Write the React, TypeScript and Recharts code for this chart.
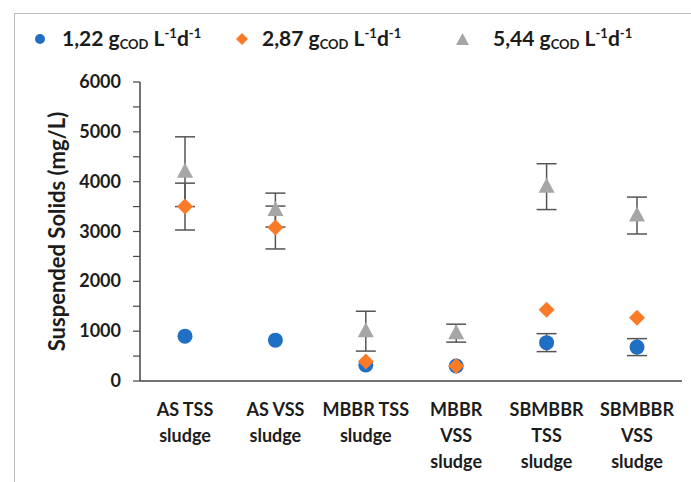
import React from "react";
import { ComposedChart, Line, ErrorBar, XAxis, YAxis } from "recharts";

const categories = [
  "AS TSS\nsludge",
  "AS VSS\nsludge",
  "MBBR TSS\nsludge",
  "MBBR\nVSS\nsludge",
  "SBMBBR\nTSS\nsludge",
  "SBMBBR\nVSS\nsludge",
];
const low = [900, 820, 320, 300, 770, 680];
const lowErr = [0, 0, 0, 0, 180, 170];
const mid = [3500, 3080, 390, 300, 1430, 1270];
const midErr = [470, 430, 0, 0, 0, 0];
const high = [4200, 3430, 1000, 960, 3900, 3320];
const highErr = [700, 340, 400, 180, 460, 370];
const yTicks = [0, 500, 1000, 1500, 2000, 2500, 3000, 3500, 4000, 4500, 5000, 5500, 6000];
const legendRates = ["1,22", "2,87", "5,44"];

const BLUE = "#1F6FC5";
const ORANGE = "#F97B28";
const GREY = "#A6A6A6";
const AXIS = "#454545";
const TEXT = "#1c1c1c";
const FONT = "Lato, 'Open Sans', sans-serif";

const data = categories.map((name, i) => ({
  name,
  low: low[i],
  lowErr: lowErr[i],
  mid: mid[i],
  midErr: midErr[i],
  high: high[i],
  highErr: highErr[i],
}));

const Circle = (p: any) =>
  p.cx == null ? null : <circle key={p.index} cx={p.cx} cy={p.cy} r={7.5} fill={BLUE} />;
const Diamond = (p: any) =>
  p.cx == null ? null : (
    <polygon
      key={p.index}
      points={`${p.cx},${p.cy - 8} ${p.cx + 8},${p.cy} ${p.cx},${p.cy + 8} ${p.cx - 8},${p.cy}`}
      fill={ORANGE}
    />
  );
const Triangle = (p: any) =>
  p.cx == null ? null : (
    <polygon
      key={p.index}
      points={`${p.cx},${p.cy - 9} ${p.cx + 8},${p.cy + 6} ${p.cx - 8},${p.cy + 6}`}
      fill={GREY}
    />
  );

function XTick({ x, y, payload }: any) {
  const lines = String(payload.value).split("\n");
  return (
    <text x={x} y={y} textAnchor="middle" fill={TEXT} fontFamily={FONT} fontWeight={700} fontSize={18}>
      {lines.map((l, i) => (
        <tspan key={i} x={x} dy={i === 0 ? 33 : 26}>
          {l}
        </tspan>
      ))}
    </text>
  );
}

function YTick({ x, y, payload }: any) {
  if (payload.value % 1000 !== 0) return null;
  return (
    <text x={x} y={y} dy={6} textAnchor="end" fill={TEXT} fontFamily={FONT} fontWeight={700} fontSize={18}>
      {payload.value}
    </text>
  );
}

function Unit({ v }: { v: string }) {
  const s = { fontSize: 13 };
  return (
    <span>
      {v} g<sub style={{ ...s, verticalAlign: -3 }}>COD</sub>
      {" "}L<sup style={{ ...s, verticalAlign: 8 }}>-1</sup>d<sup style={{ ...s, verticalAlign: 8 }}>-1</sup>
    </span>
  );
}

function LegendBox() {
  const item = { position: "absolute" as const, top: 25, display: "flex", alignItems: "center", whiteSpace: "nowrap" as const };
  return (
    <div style={{ position: "absolute", left: 0, top: 0, width: 691, fontFamily: FONT, fontWeight: 700, fontSize: 21, color: TEXT }}>
      <div style={{ ...item, left: 34 }}>
        <svg width={12} height={12} style={{ marginRight: 16 }}>
          <circle cx={6} cy={6} r={5} fill={BLUE} />
        </svg>
        <Unit v={legendRates[0]} />
      </div>
      <div style={{ ...item, left: 236 }}>
        <svg width={12} height={12} style={{ marginRight: 14 }}>
          <polygon points="6,0 12,6 6,12 0,6" fill={ORANGE} />
        </svg>
        <Unit v={legendRates[1]} />
      </div>
      <div style={{ ...item, left: 456 }}>
        <svg width={13} height={12} style={{ marginRight: 24 }}>
          <polygon points="6.5,0 13,12 0,12" fill={GREY} />
        </svg>
        <Unit v={legendRates[2]} />
      </div>
    </div>
  );
}

export default function App() {
  return (
    <div style={{ position: "fixed", left: 0, top: 0, width: 691, height: 482, overflow: "hidden", background: "#fff" }}>
      <div
        style={{
          position: "absolute",
          left: 14,
          top: 13,
          width: 720,
          height: 520,
          border: "1.5px solid #bdbdbd",
        }}
      />
      <div style={{ position: "absolute", left: 0, top: 0 }}>
        <ComposedChart width={691} height={482} data={data} margin={{ top: 82, right: 9, bottom: 71, left: 0 }}>
          <XAxis
            dataKey="name"
            type="category"
            tick={<XTick />}
            tickLine={false}
            tickSize={0}
            padding={{ left: 45, right: 45 }}
            axisLine={{ stroke: AXIS, strokeWidth: 1.5 }}
            interval={0}
          />
          <YAxis
            domain={[0, 6000]}
            ticks={yTicks}
            width={140}
            tickSize={7}
            tickMargin={12}
            tick={<YTick />}
            tickLine={{ stroke: AXIS, strokeWidth: 1.2 }}
            axisLine={{ stroke: AXIS, strokeWidth: 1.5 }}
            interval={0}
            label={{
              value: "Suspended Solids (mg/L)",
              angle: -90,
              position: "insideLeft",
              dx: 52,
              style: { textAnchor: "middle", fontFamily: FONT, fontWeight: 700, fontSize: 22, fill: TEXT },
            }}
          />
          <Line dataKey="high" stroke="none" dot={<Triangle />} activeDot={false} isAnimationActive={false}>
            <ErrorBar dataKey="highErr" direction="y" width={10} stroke="#555" strokeWidth={1.5} />
          </Line>
          <Line dataKey="low" stroke="none" dot={<Circle />} activeDot={false} isAnimationActive={false}>
            <ErrorBar dataKey="lowErr" direction="y" width={10} stroke="#555" strokeWidth={1.5} />
          </Line>
          <Line dataKey="mid" stroke="none" dot={<Diamond />} activeDot={false} isAnimationActive={false}>
            <ErrorBar dataKey="midErr" direction="y" width={10} stroke="#555" strokeWidth={1.5} />
          </Line>
        </ComposedChart>
      </div>
      <LegendBox />
    </div>
  );
}
